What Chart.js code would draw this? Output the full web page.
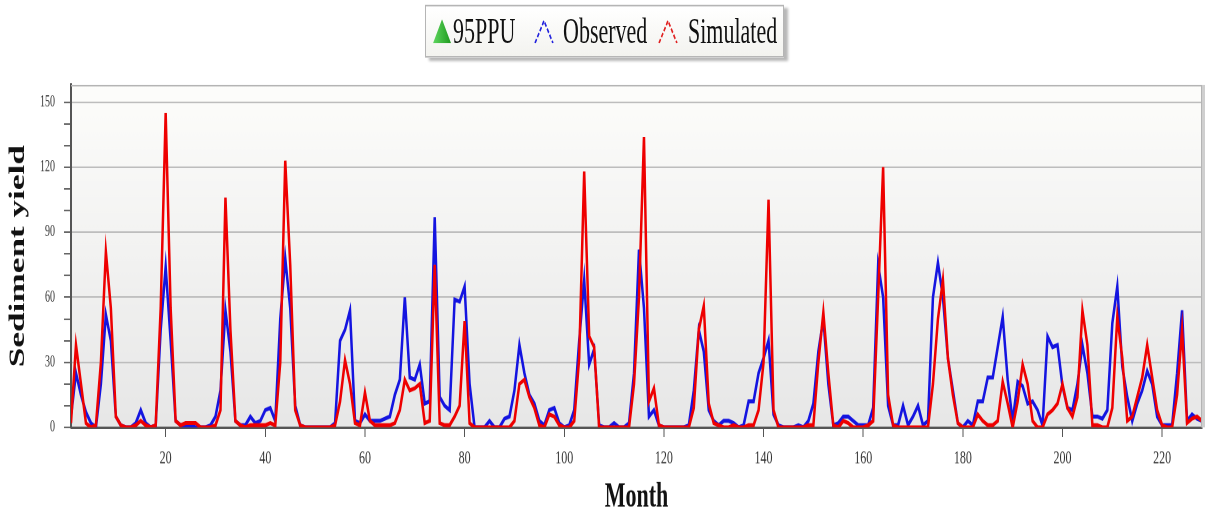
<!DOCTYPE html>
<html>
<head>
<meta charset="utf-8">
<title>Sediment yield - Observed vs Simulated</title>
<script src="https://cdn.jsdelivr.net/npm/chart.js@4.4.1/dist/chart.umd.min.js"></script>
<style>
    html, body { margin: 0; padding: 0; background: #fff; overflow: hidden; }
    /* the source picture is stretched vertically, so the whole stage is drawn short and scaled */
    #stage { position: absolute; left: 0; top: 0; width: 1212px; height: 323px; transform-origin: 0 0; transform: scaleY(1.6006); }
    #chart-wrap { position: absolute; left: 0; top: 0; width: 1212px; height: 323px; }
    #legend {
        position: absolute; left: 425px; top: 3px; width: 357px; height: 31px;
        border: 1px solid #b5b5b5; background: linear-gradient(#ffffff, #f3f3ef);
        box-shadow: 4px 2px 2px #b8b8b8;
        font-family: 'Liberation Serif', 'Times New Roman', serif; font-size: 22px; color: #111;
    }
    .item { position: absolute; top: 0; height: 31px; line-height: 31px; white-space: nowrap; }
    .sym { position: absolute; top: 8px; }
</style>
</head>
<body>
<div id="stage">
    <div id="chart-wrap"><canvas id="sedChart"></canvas></div>
    <div id="legend">
        <svg class="sym" style="left:7px" width="18" height="15" viewBox="0 0 18 15">
            <defs><linearGradient id="gr" x1="0" y1="0" x2="1" y2="0">
                <stop offset="0" stop-color="#5fd65f"/><stop offset="1" stop-color="#1e9a1e"/>
            </linearGradient></defs>
            <polygon points="9,0 18,15 0,15" fill="url(#gr)"/>
        </svg>
        <span class="item" style="left:27px">95PPU</span>
        <svg class="sym" style="left:108px" width="20" height="15" viewBox="0 0 20 15">
            <polyline points="1,15 10,1 19,15" fill="none" stroke="#2222dd" stroke-width="1.5" stroke-dasharray="3,1.5"/>
        </svg>
        <span class="item" style="left:137px">Observed</span>
        <svg class="sym" style="left:232px" width="20" height="15" viewBox="0 0 20 15">
            <polyline points="1,15 10,1 19,15" fill="none" stroke="#e02020" stroke-width="1.5" stroke-dasharray="3,1.5"/>
        </svg>
        <span class="item" style="left:262px">Simulated</span>
    </div>
</div>
<script>
// Monthly sediment yield, months 1..228 (one row = 12 months)
const months = Array.from({ length: 228 }, (_, i) => i + 1);
const xTicks = [20, 40, 60, 80, 100, 120, 140, 160, 180, 200, 220];
const yTicks = [0, 10, 20, 30, 40, 50, 60, 70, 80, 90, 100, 110, 120, 130, 140, 150];
const yMax = 158;

const observed = [
    5, 25, 15, 7, 2, 0, 20, 52, 40, 5, 1, 0,
    0, 2, 8, 2, 0, 1, 45, 74, 40, 3, 1, 1,
    1, 0, 0, 0, 1, 5, 17, 54, 35, 3, 1, 1,
    5, 2, 3, 8, 9, 3, 50, 78, 55, 10, 1, 0,
    0, 0, 0, 0, 0, 2, 40, 45, 54, 3, 2, 6,
    3, 3, 3, 4, 5, 15, 22, 60, 23, 22, 29, 11,
    12, 97, 14, 10, 8, 59, 58, 65, 20, 0, 0, 0,
    3, 0, 0, 4, 5, 17, 38, 25, 15, 11, 3, 1,
    8, 9, 2, 0, 1, 8, 40, 68, 29, 36, 1, 0,
    0, 2, 0, 0, 2, 25, 82, 55, 5, 8, 1, 0,
    0, 0, 0, 0, 1, 17, 45, 35, 8, 3, 1, 3,
    3, 2, 0, 1, 12, 12, 25, 32, 40, 6, 1, 0,
    0, 0, 1, 0, 3, 11, 35, 50, 20, 1, 2, 5,
    5, 3, 1, 1, 1, 9, 75, 60, 10, 1, 1, 10,
    1, 5, 10, 1, 3, 60, 76, 60, 32, 17, 2, 0,
    3, 1, 12, 12, 23, 23, 37, 51, 22, 3, 21, 19,
    11, 12, 8, 1, 42, 37, 38, 19, 9, 8, 20, 38,
    25, 5, 5, 4, 8, 48, 65, 28, 14, 3, 11, 17,
    26, 20, 5, 1, 1, 1, 25, 54, 3, 6, 4, 3
];

const simulated = [
    2, 38, 20, 2, 0, 1, 30, 81, 55, 5, 1, 0,
    0, 1, 3, 1, 0, 1, 55, 145, 55, 3, 1, 2,
    2, 2, 0, 0, 0, 1, 8, 106, 45, 3, 1, 0,
    1, 1, 1, 1, 2, 1, 30, 123, 75, 8, 1, 0,
    0, 0, 0, 0, 0, 1, 12, 31, 20, 2, 1, 16,
    3, 1, 1, 1, 1, 2, 8, 22, 17, 18, 20, 2,
    3, 75, 2, 1, 1, 5, 10, 49, 2, 0, 0, 0,
    0, 0, 0, 0, 0, 3, 20, 22, 14, 9, 1, 0,
    6, 5, 1, 0, 0, 3, 32, 118, 42, 37, 0, 0,
    0, 0, 0, 0, 0, 20, 60, 134, 12, 18, 1, 0,
    0, 0, 0, 0, 0, 9, 45, 56, 11, 2, 1, 0,
    0, 1, 0, 0, 1, 1, 8, 30, 105, 8, 0, 0,
    0, 0, 0, 0, 1, 1, 30, 53, 25, 1, 0, 3,
    2, 0, 0, 0, 1, 3, 60, 120, 15, 1, 0, 0,
    0, 0, 0, 0, 0, 20, 50, 68, 32, 15, 2, 0,
    0, 0, 6, 3, 1, 1, 3, 21, 11, 0, 12, 29,
    20, 3, 0, 0, 6, 8, 11, 20, 9, 5, 14, 54,
    38, 1, 1, 0, 0, 9, 51, 32, 3, 5, 14, 23,
    38, 23, 8, 1, 0, 0, 15, 45, 2, 4, 5, 3
];

const serif = "'Liberation Serif', 'Times New Roman', serif";

// plot area: soft gradient fill + light frame on top/right
const plotFrame = {
    id: 'plotFrame',
    beforeDraw(chart) {
        const { ctx, chartArea: a } = chart;
        const g = ctx.createLinearGradient(0, a.top, 0, a.bottom);
        g.addColorStop(0, '#fdfdfb');
        g.addColorStop(1, '#e7e7e7');
        ctx.save();
        ctx.fillStyle = g;
        ctx.fillRect(a.left, a.top, a.right - a.left, a.bottom - a.top);
        ctx.restore();
    },
    afterDraw(chart) {
        const { ctx, chartArea: a } = chart;
        ctx.save();
        ctx.strokeStyle = '#b4b4b4';
        ctx.lineWidth = 1;
        ctx.beginPath();
        ctx.moveTo(a.left, a.top + 0.5);
        ctx.lineTo(a.right - 0.5, a.top + 0.5);
        ctx.lineTo(a.right - 0.5, a.bottom);
        ctx.stroke();
        ctx.fillStyle = '#cfcfcf';
        ctx.fillRect(a.right, a.top, 3, a.bottom - a.top);
        ctx.restore();
    }
};

new Chart(document.getElementById('sedChart'), {
    type: 'line',
    data: {
        labels: months,
        datasets: [
            {
                label: 'Simulated',
                data: simulated,
                borderColor: '#ee0000',
                borderWidth: 2.5,
                pointRadius: 0,
                tension: 0,
                order: 0
            },
            {
                label: 'Observed',
                data: observed,
                borderColor: '#1414e0',
                borderWidth: 2.5,
                pointRadius: 0,
                tension: 0,
                order: 1
            }
        ]
    },
    options: {
        responsive: true,
        maintainAspectRatio: false,
        animation: false,
        devicePixelRatio: 2,
        layout: { padding: { top: 53, right: 10, left: 0, bottom: 0 } },
        plugins: {
            legend: { display: false },
            tooltip: { enabled: false }
        },
        scales: {
            x: {
                type: 'linear',
                min: 1,
                max: 228,
                afterBuildTicks: s => { s.ticks = xTicks.map(v => ({ value: v })); },
                afterFit: s => { s.height = 56; },
                grid: { drawOnChartArea: false, tickLength: 6, tickColor: '#555', tickWidth: 1 },
                border: { color: '#555', width: 1.5 },
                ticks: { font: { family: serif, size: 12 }, color: '#333', padding: 6, maxRotation: 0, autoSkip: false },
                title: {
                    display: true,
                    text: 'Month',
                    font: { family: serif, size: 22, weight: 'bold', lineHeight: 1 },
                    color: '#111',
                    padding: { top: 0, bottom: 1 }
                }
            },
            y: {
                min: 0,
                max: yMax,
                afterBuildTicks: s => { s.ticks = yTicks.map(v => ({ value: v })); },
                afterFit: s => { s.width = 71; },
                grid: {
                    color: c => (c.tick && c.tick.value % 30 === 0 && c.tick.value > 0) ? '#bdbdbd' : 'rgba(0,0,0,0)',
                    tickColor: '#666',
                    tickLength: 7
                },
                border: { color: '#555', width: 2 },
                ticks: {
                    autoSkip: false,
                    callback: v => (v % 30 === 0 ? v : ''),
                    font: { family: serif, size: 10 },
                    color: '#333',
                    padding: 9
                },
                title: {
                    display: true,
                    text: 'Sediment yield',
                    font: { family: serif, size: 22, weight: 'bold' },
                    color: '#111',
                    padding: { top: 5, bottom: 0 }
                }
            }
        }
    },
    plugins: [plotFrame]
});
</script>
</body>
</html>
